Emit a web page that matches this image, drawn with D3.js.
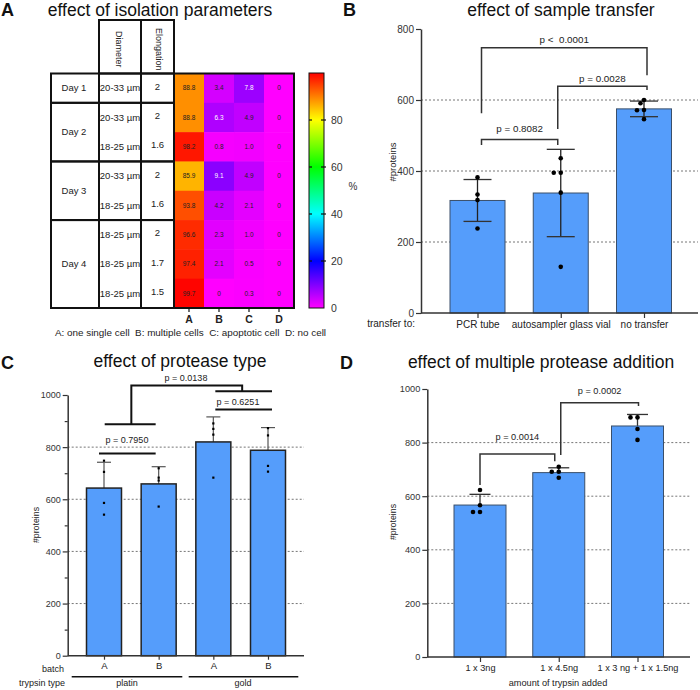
<!DOCTYPE html>
<html><head><meta charset="utf-8">
<script src="https://cdn.jsdelivr.net/npm/d3@7"></script>
<style>
body{margin:0;background:#fff;}
svg{font-family:"Liberation Sans",Arial,sans-serif;}
text{white-space:pre;}
</style>
</head><body>
<svg id="c" width="700" height="690"></svg>
<script>
// ---------------- Panel A data ----------------
const heatCols = ["A","B","C","D"];
const heatDays = ["Day 1","Day 2","Day 3","Day 4"];
const dayRowCounts = [1,2,2,3];
const heatDiameters = ["20-33 µm","20-33 µm","18-25 µm","20-33 µm","18-25 µm","18-25 µm","18-25 µm","18-25 µm"];
const heatElongations = ["2","2","1.6","2","1.6","2","1.7","1.5"];
const heatValA = [88.8,88.8,98.2,85.9,93.8,96.6,97.4,99.7];
const heatValB = [3.4,6.3,0.8,9.1,4.2,2.3,2.1,0];
const heatValC = [7.8,4.9,1.0,4.9,2.1,1.0,0.5,0.3];
const heatValD = [0,0,0,0,0,0,0,0];
const colorTickValues = [0,20,40,60,80];
const heatHeaders = ["Diameter","Elongation"];
const heatCaption = "A: one single cell  B: multiple cells  C: apoptotic cell  D: no cell";

// ---------------- Panel B data ----------------
const transferCats = ["PCR tube","autosampler glass vial","no transfer"];
const transferMeans = [317,338,575];
const transferSD = [59,123,22];
const transferPoints = [[382,334,318,238],[436,395,395,339,130],[600,591,572,571,546]];
const transferTicks = [0,200,400,600,800];
const transferTests = [
  {a:0,b:2,level:747,endA:563,endB:670,label:"p <  0.0001",labelAt:760,dxA:4,dxB:3},
  {a:1,b:2,level:639,endA:518,endB:628,label:"p = 0.0028",labelAt:652,dxA:-3,dxB:3},
  {a:0,b:1,level:489,endA:473,endB:473,label:"p = 0.8082",labelAt:510,dxA:4,dxB:-3}
];

// ---------------- Panel C data ----------------
const batchCats = ["A","B","A","B"];
const trypsinTypes = ["platin","gold"];
const proteaseMeans = [643,659,820,788];
const proteaseSD = [99,66,96,87];
const proteasePoints = [[748,705,586,541],[719,683,672,572],[891,870,848,683],[873,845,728,706]];
const proteaseTicks = [0,200,400,600,800,1000];

// ---------------- Panel D data ----------------
const additionCats = ["1 x 3ng","1 x 4.5ng","1 x 3 ng + 1 x 1.5ng"];
const additionMeans = [567,688,862];
const additionSD = [40,18,43];
const additionPoints = [[623,566,541,541],[710,691,691,669],[894,894,851,810]];
const additionTicks = [0,200,400,600,800,1000];
const additionTests = [
  {a:0,b:1,level:757,endA:642,endB:730,label:"p = 0.0014",labelAt:810,dxA:0,dxB:-4},
  {a:1,b:2,level:949,endA:754,endB:937,label:"p = 0.0002",labelAt:981,dxA:2,dxB:1}
];

// ---------------- helpers ----------------
const svg = d3.select("#c");
const TXT = "#222";
const BAR = "#559dfb";
const fmt = d3.format("d");
function txt(g,x,y,s,o={}){
  return g.append("text").attr("x",x).attr("y",y).text(s)
    .attr("font-size",o.size||10).attr("fill",o.fill||TXT)
    .attr("text-anchor",o.anchor||"middle")
    .attr("font-weight",o.weight||"normal");
}
function swarm(vals, y, cx, r){
  const placed=[]; const out=[];
  vals.forEach(v=>{
    const py=y(v);
    const offs=[0,-3.5,3.5,-7,7];
    let px=cx;
    for(const o of offs){
      const ok=placed.every(p=>Math.hypot(p[0]-(cx+o),p[1]-py)>=2*r);
      if(ok){px=cx+o;break;}
    }
    placed.push([px,py]); out.push([px,py]);
  });
  return out;
}
function styleAxis(g,size){
  g.select(".domain").attr("stroke","#333").attr("stroke-width",1.5);
  g.selectAll(".tick line").attr("stroke","#333").attr("stroke-width",1.2);
  g.selectAll(".tick text").attr("fill","#333").attr("font-size",size||10)
    .attr("font-family",'"Liberation Sans",Arial,sans-serif');
}

// ---------------- Panel A ----------------
(function(){
  const g = svg.append("g");
  txt(g,1,16,"A",{size:18,weight:"bold",anchor:"start",fill:"#111"});
  txt(g,160,16,"effect of isolation parameters",{size:17.5,fill:"#111"});
  const heatVals=[heatValA,heatValB,heatValC,heatValD];
  const nRows=heatValA.length;
  const y = d3.scaleBand().domain(d3.range(nRows)).range([73.5,308]);
  const x = d3.scaleBand().domain(heatCols).range([174,294]);
  const stops=[0,20,40,60,80,100];
  const color = d3.scaleLinear().domain(stops)
    .range(["#ff00ff","#0000ff","#00ffff","#00ff00","#ffff00","#ff0000"]);
  heatCols.forEach((c,ci)=>{
    heatVals[ci].forEach((v,ri)=>{
      g.append("rect").attr("x",x(c)).attr("y",y(ri)).attr("width",x.bandwidth()+0.5)
        .attr("height",y.bandwidth()+0.5).attr("fill",color(v));
      txt(g,x(c)+x.bandwidth()/2,y(ri)+y.bandwidth()/2+2.3,v===0?"0":v.toFixed(1),
        {size:6.5,fill:(v>5&&v<40)?"#fff":"#222"});
    });
  });
  g.append("rect").attr("x",174).attr("y",73.5).attr("width",120).attr("height",234.5)
    .attr("fill","none").attr("stroke","#111").attr("stroke-width",2);
  const colsX=[51,99,141,174];
  const T = g.append("g").attr("fill","none").attr("stroke","#111").attr("stroke-width",2);
  T.append("rect").attr("x",99).attr("y",20).attr("width",42).attr("height",53.5);
  T.append("rect").attr("x",141).attr("y",20).attr("width",33).attr("height",53.5);
  txt(g,0,0,heatHeaders[0],{size:9,anchor:"start"}).attr("transform","translate(115.5,31) rotate(90)");
  txt(g,0,0,heatHeaders[1],{size:9,anchor:"start"}).attr("transform","translate(155.5,28) rotate(90)");
  let start=0;
  dayRowCounts.forEach((n,di)=>{
    const y0=y(start), y1=y(start+n-1)+y.bandwidth();
    for(let k=0;k<3;k++){
      T.append("rect").attr("x",colsX[k]).attr("y",y0).attr("width",colsX[k+1]-colsX[k]).attr("height",y1-y0);
    }
    txt(g,74,(y0+y1)/2+3.3,heatDays[di],{size:9.5});
    start+=n;
  });
  heatDiameters.forEach((d,i)=>{
    txt(g,120,y(i)+y.bandwidth()/2+3.3,d,{size:9.5});
    txt(g,157.5,y(i)+y.bandwidth()/2+1.5,heatElongations[i],{size:9.5});
  });
  heatCols.forEach(c=>{
    const cx=x(c)+x.bandwidth()/2;
    g.append("line").attr("x1",cx).attr("x2",cx).attr("y1",308).attr("y2",312).attr("stroke","#111").attr("stroke-width",1.2);
    txt(g,cx,322.5,c,{size:10.5,weight:"bold"});
  });
  txt(g,190.5,336,heatCaption,{size:9.9});
  const yc=d3.scaleLinear().domain([0,100]).range([308,73]);
  const grad=svg.append("defs").append("linearGradient").attr("id","cb")
    .attr("x1",0).attr("y1",1).attr("x2",0).attr("y2",0);
  stops.forEach(s=>grad.append("stop").attr("offset",s/100).attr("stop-color",color(s)));
  g.append("rect").attr("x",309).attr("y",yc(100)).attr("width",15).attr("height",yc(0)-yc(100))
    .attr("fill","url(#cb)").attr("stroke","#111").attr("stroke-width",1);
  colorTickValues.forEach(t=>{
    if(t>0){
      g.append("line").attr("x1",309).attr("x2",312).attr("y1",yc(t)).attr("y2",yc(t)).attr("stroke","#111").attr("stroke-width",1.2);
      g.append("line").attr("x1",321).attr("x2",326).attr("y1",yc(t)).attr("y2",yc(t)).attr("stroke","#111").attr("stroke-width",1.2);
    }
    txt(g,331,yc(t)+3.8,String(t),{size:10.5,anchor:"start",fill:"#333"});
  });
  txt(g,353,190,"%",{size:10,fill:"#333"});
})();

// ---------------- Panel B ----------------
(function(){
  const g=svg.append("g");
  txt(g,343,16,"B",{size:18,weight:"bold",anchor:"start",fill:"#111"});
  txt(g,561,16,"effect of sample transfer",{size:17.5,fill:"#111"});
  const y=d3.scaleLinear().domain([0,800]).range([313,29]);
  const x=d3.scalePoint().domain(transferCats).range([477.5,644]);
  const X0=421, X1=698, bw=55;
  [200,400,600].forEach(v=>g.append("line").attr("x1",X0).attr("x2",X1).attr("y1",y(v)).attr("y2",y(v))
    .attr("stroke","#666").attr("stroke-width",0.9).attr("stroke-dasharray","2,2"));
  transferCats.forEach((c,i)=>{
    const m=transferMeans[i];
    g.append("rect").attr("x",x(c)-bw/2).attr("y",y(m)).attr("width",bw).attr("height",y(0)-y(m))
      .attr("fill",BAR).attr("stroke","#3a4f6a").attr("stroke-width",1);
  });
  transferCats.forEach((c,i)=>{
    const m=transferMeans[i], s=transferSD[i], cx=x(c);
    g.append("line").attr("x1",cx).attr("x2",cx).attr("y1",y(m-s)).attr("y2",y(m+s)).attr("stroke","#222").attr("stroke-width",1.3);
    [m-s,m+s].forEach(v=>g.append("line").attr("x1",cx-14).attr("x2",cx+14).attr("y1",y(v)).attr("y2",y(v)).attr("stroke","#333").attr("stroke-width",1.3));
    swarm(transferPoints[i],y,cx,2.3).forEach(p=>g.append("circle").attr("cx",p[0]).attr("cy",p[1]).attr("r",2.3).attr("fill","#000"));
  });
  const ay=g.append("g").attr("transform",`translate(${X0},0)`)
    .call(d3.axisLeft(y).tickValues(transferTicks).tickFormat(fmt).tickSize(5).tickSizeOuter(0).tickPadding(2));
  styleAxis(ay,10);
  const ax=g.append("g").attr("transform",`translate(0,${y(0)})`)
    .call(d3.axisBottom(x).tickSize(5).tickPadding(3));
  ax.select(".domain").remove(); styleAxis(ax,10);
  ax.selectAll(".tick text").attr("fill","#222");
  g.append("line").attr("x1",X0).attr("x2",X1).attr("y1",y(0)).attr("y2",y(0)).attr("stroke","#333").attr("stroke-width",1.5);
  txt(g,415,327,"transfer to:",{anchor:"end"});
  txt(g,0,0,"#proteins",{size:9.5}).attr("transform",`translate(396,162) rotate(-90)`);
  transferTests.forEach(t=>{
    const xa=x(transferCats[t.a])+t.dxA, xb=x(transferCats[t.b])+t.dxB;
    g.append("path").attr("d",`M${xa},${y(t.endA)}V${y(t.level)}H${xb}V${y(t.endB)}`)
      .attr("fill","none").attr("stroke","#333").attr("stroke-width",1.5);
    txt(g,(xa+xb)/2,y(t.labelAt),t.label,{size:9.8});
  });
})();

// ---------------- Panel C ----------------
(function(){
  const g=svg.append("g");
  const FS=9;
  txt(g,1,369,"C",{size:18,weight:"bold",anchor:"start",fill:"#111"});
  txt(g,180,366.5,"effect of protease type",{size:17.5,fill:"#111"});
  const y=d3.scaleLinear().domain([0,1000]).range([655.7,395]);
  const idx=d3.range(batchCats.length);
  const x=d3.scalePoint().domain(idx).range([104,268]);
  const X0=67.7, X1=304, bw=35;
  [200,400,600,800].forEach(v=>g.append("line").attr("x1",X0).attr("x2",X1).attr("y1",y(v)).attr("y2",y(v))
    .attr("stroke","#666").attr("stroke-width",0.9).attr("stroke-dasharray","2,2"));
  idx.forEach(i=>{
    const m=proteaseMeans[i], s=proteaseSD[i], cx=x(i);
    g.append("line").attr("x1",cx).attr("x2",cx).attr("y1",y(m)).attr("y2",y(m+s)).attr("stroke","#555").attr("stroke-width",1.2);
    g.append("line").attr("x1",cx-7).attr("x2",cx+7).attr("y1",y(m+s)).attr("y2",y(m+s)).attr("stroke","#555").attr("stroke-width",1.2);
    g.append("rect").attr("x",cx-bw/2).attr("y",y(m)).attr("width",bw).attr("height",y(0)-y(m))
      .attr("fill",BAR).attr("stroke","#222").attr("stroke-width",1.5);
    proteasePoints[i].forEach(v=>g.append("rect").attr("x",cx-1.1).attr("y",y(v)-1.1).attr("width",2.2).attr("height",2.2).attr("fill","#000"));
  });
  const ay=g.append("g").attr("transform",`translate(${X0},0)`)
    .call(d3.axisLeft(y).tickValues(proteaseTicks).tickFormat(fmt).tickSize(5).tickSizeOuter(0).tickPadding(2));
  styleAxis(ay,FS);
  g.append("g").attr("transform",`translate(${X0},0)`)
    .call(d3.axisLeft(y).tickValues([100,300,500,700,900]).tickSize(3).tickFormat(""))
    .call(s=>{s.select(".domain").remove(); s.selectAll("line").attr("stroke","#333").attr("stroke-width",1.2);});
  const ax=g.append("g").attr("transform",`translate(0,${y(0)})`)
    .call(d3.axisBottom(x).tickSize(4).tickPadding(3).tickFormat(i=>batchCats[i]));
  ax.select(".domain").remove(); styleAxis(ax,FS+0.5);
  ax.selectAll(".tick text").attr("fill","#222");
  g.append("line").attr("x1",X0).attr("x2",X1).attr("y1",y(0)).attr("y2",y(0)).attr("stroke","#333").attr("stroke-width",1.5);
  txt(g,64,672,"batch",{anchor:"end",size:FS});
  txt(g,65,686,"trypsin type",{anchor:"end",size:FS});
  [[71.7,182.3],[188.7,298.3]].forEach((r,k)=>{
    g.append("line").attr("x1",r[0]).attr("x2",r[1]).attr("y1",676.7).attr("y2",676.7).attr("stroke","#111").attr("stroke-width",1.6);
    txt(g,k===0?127:243,686,trypsinTypes[k],{size:FS});
  });
  txt(g,0,0,"#proteins",{size:8.8}).attr("transform",`translate(39,525) rotate(-90)`);
  const L=g.append("g").attr("stroke","#111").attr("stroke-width",2).attr("fill","none");
  L.append("line").attr("x1",x(0)-5).attr("x2",x(1)-3).attr("y1",y(776)).attr("y2",y(776));
  txt(g,127,y(817),"p = 0.7950",{size:FS});
  L.append("line").attr("x1",x(2)+2).attr("x2",x(3)+4).attr("y1",y(1014)).attr("y2",y(1014));
  L.append("line").attr("x1",x(2)+2).attr("x2",x(3)+4).attr("y1",y(944)).attr("y2",y(944));
  txt(g,238,y(963),"p = 0.6251",{size:FS});
  const mA=(x(0)+x(1))/2, mB=(x(2)+x(3))/2+1.5;
  L.append("line").attr("x1",x(0)+0.7).attr("x2",x(1)-3).attr("y1",y(888)).attr("y2",y(888));
  L.append("path").attr("d",`M${mA},${y(888)}V${y(1036)}H${mB}V${y(1014)}`);
  txt(g,186,y(1055),"p = 0.0138",{size:FS});
})();

// ---------------- Panel D ----------------
(function(){
  const g=svg.append("g");
  const FS=9.2;
  txt(g,340,369,"D",{size:18,weight:"bold",anchor:"start",fill:"#111"});
  txt(g,541,368,"effect of multiple protease addition",{size:17.5,fill:"#111"});
  const y=d3.scaleLinear().domain([0,1000]).range([657,389]);
  const x=d3.scalePoint().domain(additionCats).range([480,637.5]);
  const X0=427.3, X1=690, bw=52;
  [200,400,600,800].forEach(v=>g.append("line").attr("x1",X0).attr("x2",X1).attr("y1",y(v)).attr("y2",y(v))
    .attr("stroke","#666").attr("stroke-width",0.9).attr("stroke-dasharray","2,2"));
  additionCats.forEach((c,i)=>{
    const m=additionMeans[i], s=additionSD[i], cx=x(c);
    g.append("line").attr("x1",cx).attr("x2",cx).attr("y1",y(m)).attr("y2",y(m+s)).attr("stroke","#333").attr("stroke-width",1.3);
    g.append("line").attr("x1",cx-10.5).attr("x2",cx+10.5).attr("y1",y(m+s)).attr("y2",y(m+s)).attr("stroke","#333").attr("stroke-width",1.3);
    g.append("rect").attr("x",cx-bw/2).attr("y",y(m)).attr("width",bw).attr("height",y(0)-y(m))
      .attr("fill",BAR).attr("stroke","#3a4f6a").attr("stroke-width",1);
    swarm(additionPoints[i],y,cx,2.3).forEach(p=>g.append("circle").attr("cx",p[0]).attr("cy",p[1]).attr("r",2.3).attr("fill","#000"));
  });
  const ay=g.append("g").attr("transform",`translate(${X0},0)`)
    .call(d3.axisLeft(y).tickValues(additionTicks).tickFormat(fmt).tickSize(5).tickSizeOuter(0).tickPadding(2));
  styleAxis(ay,FS);
  const ax=g.append("g").attr("transform",`translate(0,${y(0)})`)
    .call(d3.axisBottom(x).tickSize(5).tickPadding(2));
  ax.select(".domain").remove(); styleAxis(ax,FS);
  ax.selectAll(".tick text").attr("fill","#222");
  g.append("line").attr("x1",X0).attr("x2",X1).attr("y1",y(0)).attr("y2",y(0)).attr("stroke","#333").attr("stroke-width",1.5);
  txt(g,558,686,"amount of trypsin added",{size:FS});
  txt(g,0,0,"#proteins",{size:8.8}).attr("transform",`translate(396,522) rotate(-90)`);
  additionTests.forEach(t=>{
    const xa=x(additionCats[t.a])+t.dxA, xb=x(additionCats[t.b])+t.dxB;
    g.append("path").attr("d",`M${xa},${y(t.endA)}V${y(t.level)}H${xb}V${y(t.endB)}`)
      .attr("fill","none").attr("stroke","#333").attr("stroke-width",1.5);
    txt(g,(xa+xb)/2,y(t.labelAt),t.label,{size:FS});
  });
})();
</script>
</body></html>
